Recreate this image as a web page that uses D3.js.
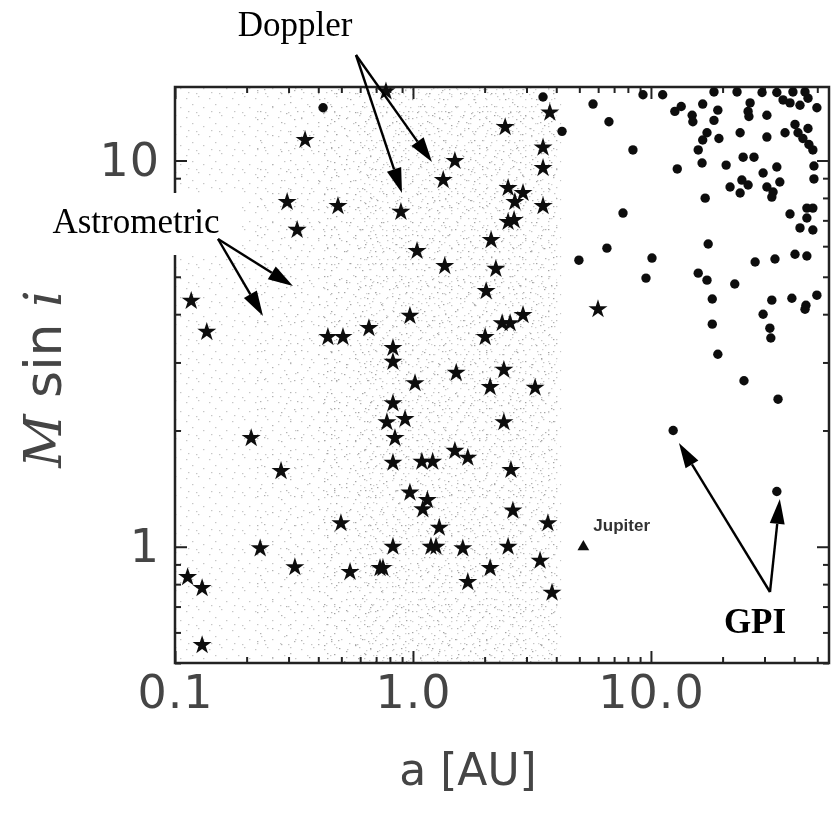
<!DOCTYPE html>
<html>
<head>
<meta charset="utf-8">
<script src="https://cdn.jsdelivr.net/npm/d3@7"></script>
<style>
  html, body { margin: 0; padding: 0; background: #fff; }
  svg { display: block; }
</style>
</head>
<body>
<svg id="chart" width="831" height="814"></svg>
<script>
// Known radial-velocity planets: [semi-major axis a (AU), M sin i (M_Jup)]
const rvPlanets = [
  [0.770,15.1],[3.76,13.3],[2.44,12.2],[3.52,10.8],[1.50,9.97],[3.52,9.56],[1.34,8.90],
  [2.51,8.49],[2.90,8.24],[2.68,7.81],[3.52,7.62],[0.890,7.36],[2.51,6.93],[2.66,7.01],
  [2.13,6.22],[1.04,5.83],[1.36,5.33],[2.23,5.24],[2.03,4.59],[0.971,3.96],[2.90,3.98],
  [2.37,3.79],[2.56,3.79],[2.01,3.49],[0.824,3.27],[0.824,3.01],[1.52,2.82],[2.41,2.87],
  [1.02,2.65],[2.11,2.59],[3.26,2.58],[0.824,2.35],[0.777,2.10],[0.926,2.14],[2.41,2.10],
  [0.840,1.91],[1.50,1.77],[1.70,1.70],[0.824,1.65],[1.09,1.66],[1.21,1.66],[2.58,1.58],
  [0.971,1.38],[1.15,1.32],[1.10,1.25],[2.63,1.24],[3.69,1.15],[1.29,1.12],[0.824,1.00],
  [1.19,1.00],[1.25,1.00],[1.62,0.99],[2.51,1.00],[3.42,0.92],[0.748,0.88],[2.11,0.88],
  [1.70,0.81],[3.84,0.76],[0.352,11.3],[0.296,7.81],[0.484,7.62],[0.326,6.61],[0.117,4.33],
  [0.136,3.60],[0.439,3.49],[0.508,3.49],[0.653,3.68],[0.209,1.91],[0.279,1.57],[0.498,1.15],
  [0.228,0.99],[0.319,0.885],[0.544,0.86],[0.727,0.88],[0.113,0.834],[0.130,0.781],
  [0.130,0.556],[5.99,4.12]
];

// Simulated GPI imaging detections: [a (AU), M (M_Jup)]
const gpiPlanets = [
  [0.419,13.7],[3.52,14.6],[4.23,11.9],[5.71,14.0],[6.66,12.6],[9.26,14.8],[11.2,14.8],
  [8.40,10.65],[12.9,9.51],[12.6,13.4],[13.4,13.8],[14.9,13.1],[15.0,12.6],[16.5,14.0],
  [18.4,15.05],[19.1,13.5],[18.4,12.7],[23.0,15.05],[26.1,14.1],[25.6,13.4],[25.8,13.0],
  [29.3,15.0],[30.7,13.1],[33.8,15.0],[35.9,14.35],[38.4,14.1],[42.3,13.9],[45.7,14.5],
  [44.4,15.05],[39.5,15.05],[49.8,13.7],[17.2,11.8],[16.5,11.3],[19.3,11.4],[23.7,11.8],
  [30.7,11.5],[36.6,11.8],[40.3,12.4],[41.5,11.8],[43.5,11.4],[46.1,11.0],[47.9,10.65],
  [45.7,12.1],[15.8,10.65],[16.4,9.85],[20.7,9.73],[24.4,10.2],[27.1,10.2],[29.6,9.28],
  [33.8,9.62],[48.4,9.68],[48.4,8.96],[21.5,8.54],[24.1,8.90],[23.7,8.24],[25.6,8.64],
  [30.7,8.54],[32.6,8.29],[34.8,8.80],[32.2,8.04],[16.9,7.99],[7.63,7.31],[38.4,7.27],
  [45.2,7.53],[47.9,7.53],[45.2,7.10],[42.3,6.69],[47.9,6.61],[17.4,6.08],[6.53,5.93],
  [4.98,5.52],[10.1,5.59],[9.53,4.96],[15.8,5.11],[17.2,4.90],[22.5,4.79],[27.4,5.46],
  [33.2,5.56],[40.3,5.72],[45.2,5.66],[18.1,4.38],[32.2,4.35],[39.1,4.40],[44.8,4.22],
  [44.4,4.12],[49.8,4.48],[29.6,4.00],[18.1,3.77],[31.6,3.68],[31.9,3.47],[19.1,3.15],
  [24.6,2.69],[34.2,2.41],[12.4,2.00],[33.8,1.39]
];

// Solar-system reference point
const jupiter = { a: 5.2, m: 1.0, label: "Jupiter" };

// Astrometric sensitivity: speckle layers, each covering an a-range (AU)
const speckleLayers = [
  { tile: "spA", aMin: 0.10, aMax: 4.2 },
  { tile: "spB", aMin: 0.22, aMax: 4.1 },
  { tile: "spC", aMin: 0.40, aMax: 4.0 },
  { tile: "spD", aMin: 0.60, aMax: 3.9 }
];

// Axis ranges and labelled ticks
const xDomain = [0.1, 56];
const yDomain = [0.5, 15.5];
const xTickValues = [0.1, 1, 10];
const xTickLabels = ["0.1", "1.0", "10.0"];
const yTickValues = [1, 10];
const yTickLabels = ["1", "10"];

// Callouts: label text and the data points their arrows point at
const annotations = [
  { text: "Doppler", tx: 295, ty: 36, from: [356, 55], to: [[0.899, 8.24], [1.202, 9.91]], bold: false },
  { text: "Astrometric", tx: 136, ty: 233, from: [218, 239], to: [[0.3131, 4.73], [0.2343, 3.96]], bold: false },
  { text: "GPI", tx: 755, ty: 633, from: [770, 592], to: [[13.11, 1.856], [34.8, 1.33]], bold: true }
];

const plot = { left: 175, right: 829, top: 87, bottom: 663 };

const x = d3.scaleLog().domain(xDomain).range([plot.left, plot.right]);
const y = d3.scaleLog().domain(yDomain).range([plot.bottom, plot.top]);

const svg = d3.select("#chart");
const defs = svg.append("defs");

defs.append("filter").attr("id", "soft")
  .attr("x", "-5%").attr("y", "-5%").attr("width", "110%").attr("height", "110%")
  .append("feGaussianBlur").attr("stdDeviation", 0.6);

defs.append("clipPath").attr("id", "plotClip")
  .append("rect")
  .attr("x", plot.left).attr("y", plot.top)
  .attr("width", plot.right - plot.left).attr("height", plot.bottom - plot.top);

// Speckle tiles of different periods so the overlay does not look regular
const speckleTiles = [
  { id: "spA", w: 23, h: 19, fill: "#c6c6c6", pts: [[2,3],[14,1],[8,9],[19,12],[4,16],[12,17]] },
  { id: "spB", w: 37, h: 29, fill: "#b2b2b2", pts: [[5,2],[22,6],[31,15],[13,19],[27,26],[1,24],[35,3]] },
  { id: "spC", w: 31, h: 41, fill: "#a4a4a4", pts: [[3,5],[17,2],[26,11],[9,17],[21,24],[29,33],[5,36],[14,30],[24,39]] },
  { id: "spD", w: 13, h: 17, fill: "#d2d2d2", pts: [[2,4],[9,9],[5,14]] }
];
speckleTiles.forEach(t => {
  const p = defs.append("pattern").attr("id", t.id)
    .attr("patternUnits", "userSpaceOnUse")
    .attr("width", t.w).attr("height", t.h);
  p.selectAll("rect").data(t.pts).join("rect")
    .attr("x", d => d[0]).attr("y", d => d[1])
    .attr("width", 1.4).attr("height", 1.2)
    .attr("fill", t.fill);
});

const field = svg.append("g").attr("clip-path", "url(#plotClip)");
field.selectAll("rect").data(speckleLayers).join("rect")
  .attr("x", d => x(d.aMin)).attr("y", plot.top)
  .attr("width", d => x(d.aMax) - x(d.aMin)).attr("height", plot.bottom - plot.top)
  .attr("fill", d => `url(#${d.tile})`);

// Axes: IDL-style box with inward ticks on all four sides
const axesG = svg.append("g").attr("filter", "url(#soft)");

const minorX = x.ticks().filter(v => !xTickValues.some(t => Math.abs(t - v) < 1e-9));
const minorY = y.ticks().filter(v => !yTickValues.some(t => Math.abs(t - v) < 1e-9));

function styleAxis(g) {
  g.select(".domain").remove();
  g.selectAll(".tick line").attr("stroke", "#222").attr("stroke-width", 2);
}

axesG.append("g").attr("transform", `translate(0,${plot.bottom})`)
  .call(d3.axisBottom(x).tickValues(minorX).tickSize(-6).tickFormat(""))
  .call(styleAxis);
axesG.append("g").attr("transform", `translate(0,${plot.top})`)
  .call(d3.axisTop(x).tickValues(minorX).tickSize(-6).tickFormat(""))
  .call(styleAxis);
axesG.append("g").attr("transform", `translate(0,${plot.top})`)
  .call(d3.axisTop(x).tickValues(xTickValues).tickSize(-12).tickFormat(""))
  .call(styleAxis);
axesG.append("g").attr("transform", `translate(${plot.left},0)`)
  .call(d3.axisLeft(y).tickValues(minorY).tickSize(-6).tickFormat(""))
  .call(styleAxis);
axesG.append("g").attr("transform", `translate(${plot.right},0)`)
  .call(d3.axisRight(y).tickValues(minorY).tickSize(-6).tickFormat(""))
  .call(styleAxis);
axesG.append("g").attr("transform", `translate(${plot.right},0)`)
  .call(d3.axisRight(y).tickValues(yTickValues).tickSize(-12).tickFormat(""))
  .call(styleAxis);

const xMajor = axesG.append("g").attr("transform", `translate(0,${plot.bottom})`)
  .call(d3.axisBottom(x).tickValues(xTickValues).tickSize(-12).tickPadding(12)
    .tickFormat((d, i) => xTickLabels[i]))
  .call(styleAxis);
const yMajor = axesG.append("g").attr("transform", `translate(${plot.left},0)`)
  .call(d3.axisLeft(y).tickValues(yTickValues).tickSize(-12).tickPadding(15)
    .tickFormat((d, i) => yTickLabels[i]))
  .call(styleAxis);

[xMajor, yMajor].forEach(g => g.selectAll(".tick text")
  .attr("font-family", "'DejaVu Sans', sans-serif")
  .attr("font-size", 46)
  .attr("letter-spacing", 1)
  .attr("fill", "#444"));

axesG.append("rect")
  .attr("x", plot.left).attr("y", plot.top)
  .attr("width", plot.right - plot.left).attr("height", plot.bottom - plot.top)
  .attr("fill", "none").attr("stroke", "#222").attr("stroke-width", 2.5);

// Axis titles
axesG.append("text")
  .attr("x", 468).attr("y", 785)
  .attr("text-anchor", "middle")
  .attr("font-family", "'DejaVu Sans', sans-serif")
  .attr("font-size", 44).attr("fill", "#444")
  .text("a [AU]");

const yTitle = axesG.append("text")
  .attr("transform", "translate(61,379) rotate(-90)")
  .attr("text-anchor", "middle")
  .attr("font-size", 52).attr("fill", "#444");
yTitle.append("tspan").attr("font-family", "'DejaVu Serif', serif").attr("font-style", "italic").text("M");
yTitle.append("tspan").attr("font-family", "'DejaVu Sans', sans-serif").text(" sin ");
yTitle.append("tspan").attr("font-family", "'DejaVu Serif', serif").attr("font-style", "italic").text("i");

// Planet markers
const marks = svg.append("g").attr("filter", "url(#soft)");
const starPath = d3.symbol(d3.symbolStar, 112)();

marks.selectAll("path.rv").data(rvPlanets).join("path")
  .attr("class", "rv")
  .attr("d", starPath)
  .attr("transform", d => `translate(${x(d[0])},${y(d[1])})`)
  .attr("fill", "#111");

marks.selectAll("circle.gpi").data(gpiPlanets).join("circle")
  .attr("class", "gpi")
  .attr("cx", d => x(d[0])).attr("cy", d => y(d[1]))
  .attr("r", 4.7)
  .attr("fill", "#111");

// Jupiter
const jx = x(jupiter.a), jy = y(jupiter.m);
marks.append("path")
  .attr("d", d3.symbol(d3.symbolTriangle, 60)())
  .attr("transform", `translate(${jx},${jy})`)
  .attr("fill", "#111");
marks.append("text")
  .attr("x", jx + 10).attr("y", jy - 16)
  .attr("font-family", "'Liberation Sans', Arial, sans-serif")
  .attr("font-weight", "bold")
  .attr("font-size", 17).attr("fill", "#333")
  .text(jupiter.label);

// White panel behind the "Astrometric" callout
svg.append("rect")
  .attr("x", 45).attr("y", 193).attr("width", 197).attr("height", 62)
  .attr("fill", "#fff");

// Callouts with arrows
const ann = svg.append("g");
function arrow(x1, y1, x2, y2) {
  const dx = x2 - x1, dy = y2 - y1, len = Math.hypot(dx, dy);
  const ux = dx / len, uy = dy / len;
  const headL = 25, headW = 7.5;
  const bx = x2 - ux * headL, by = y2 - uy * headL;
  ann.append("line")
    .attr("x1", x1).attr("y1", y1).attr("x2", bx).attr("y2", by)
    .attr("stroke", "#000").attr("stroke-width", 2.4);
  ann.append("path")
    .attr("d", `M${x2},${y2}L${bx - uy * headW},${by + ux * headW}L${bx + uy * headW},${by - ux * headW}Z`)
    .attr("fill", "#000");
}
annotations.forEach(a => {
  ann.append("text")
    .attr("x", a.tx).attr("y", a.ty)
    .attr("text-anchor", "middle")
    .attr("font-family", "'Liberation Serif', 'Times New Roman', serif")
    .attr("font-size", 35)
    .attr("font-weight", a.bold ? "bold" : "normal")
    .attr("fill", "#000")
    .text(a.text);
  a.to.forEach(t => arrow(a.from[0], a.from[1], x(t[0]), y(t[1])));
});
</script>
</body>
</html>
